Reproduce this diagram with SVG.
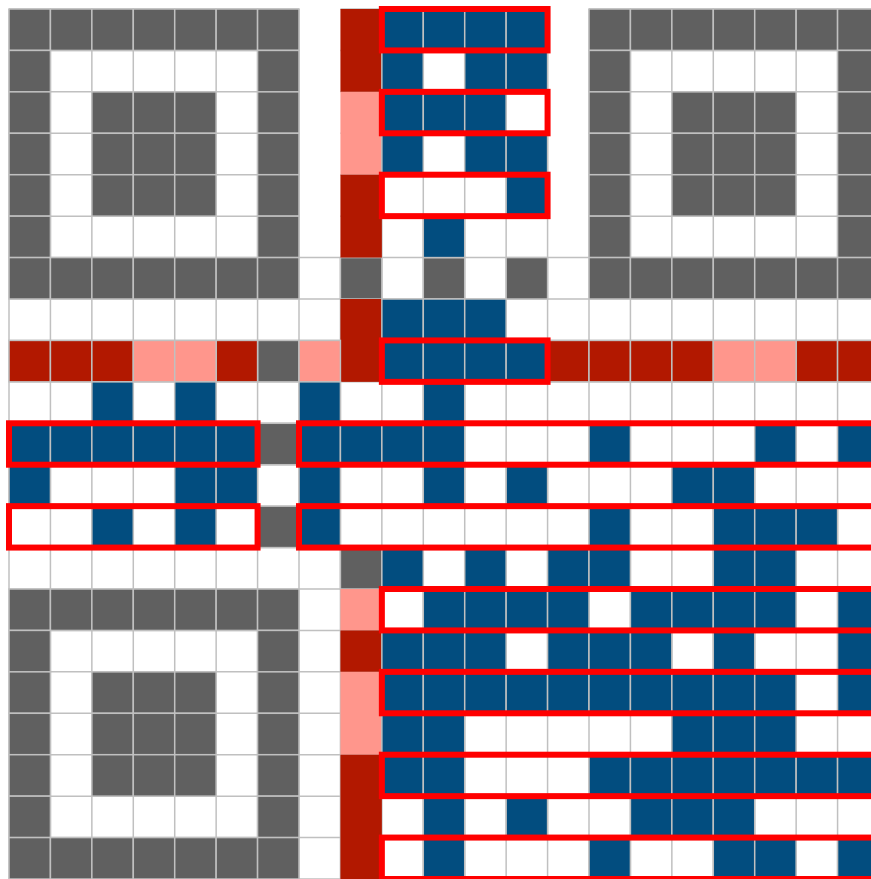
<svg xmlns="http://www.w3.org/2000/svg" xmlns:xlink="http://www.w3.org/1999/xlink" width="871" height="879" viewBox="0 0 871 879">
<style>
.grid{fill:none;stroke:#c0c0c0;stroke-width:0.036}
.g{fill:#606060;stroke:#c0c0c0;stroke-width:0.036}
.b{fill:#024d7f;stroke:#c0c0c0;stroke-width:0.036}
.r{fill:#b21800;stroke:#c0c0c0;stroke-width:0.036}
.p{fill:#ff968c;stroke:#c0c0c0;stroke-width:0.036}
.rn{fill:#b21800;stroke:none}
.pn{fill:#ff968c;stroke:none}
.box{fill:none;stroke:#ff0000;stroke-width:0.145}
</style>
<defs>
<rect id="c" width="1" height="1"/>
<g id="finder">
<use href="#c" x="0" y="0"/><use href="#c" x="1" y="0"/><use href="#c" x="2" y="0"/><use href="#c" x="3" y="0"/><use href="#c" x="4" y="0"/><use href="#c" x="5" y="0"/><use href="#c" x="6" y="0"/>
<use href="#c" x="0" y="1"/><use href="#c" x="6" y="1"/>
<use href="#c" x="0" y="2"/><use href="#c" x="2" y="2"/><use href="#c" x="3" y="2"/><use href="#c" x="4" y="2"/><use href="#c" x="6" y="2"/>
<use href="#c" x="0" y="3"/><use href="#c" x="2" y="3"/><use href="#c" x="3" y="3"/><use href="#c" x="4" y="3"/><use href="#c" x="6" y="3"/>
<use href="#c" x="0" y="4"/><use href="#c" x="2" y="4"/><use href="#c" x="3" y="4"/><use href="#c" x="4" y="4"/><use href="#c" x="6" y="4"/>
<use href="#c" x="0" y="5"/><use href="#c" x="6" y="5"/>
<use href="#c" x="0" y="6"/><use href="#c" x="1" y="6"/><use href="#c" x="2" y="6"/><use href="#c" x="3" y="6"/><use href="#c" x="4" y="6"/><use href="#c" x="5" y="6"/><use href="#c" x="6" y="6"/>
</g>
</defs>
<rect width="871" height="879" fill="#ffffff"/>
<g transform="translate(9 9) scale(41.428571)">
<path id="gridlines" class="grid" d="M0 0V21M1 0V21M2 0V21M3 0V21M4 0V21M5 0V21M6 0V21M7 0V21M8 6V21M9 0V21M10 0V21M11 0V21M12 0V21M13 0V21M14 0V21M15 0V21M16 0V21M17 0V21M18 0V21M19 0V21M20 0V21M21 0V21
M0 0H7M8 0H13M14 0H21M0 1H7M8 1H13M14 1H21M0 2H7M8 2H13M14 2H21M0 3H7M8 3H13M14 3H21M0 4H7M8 4H13M14 4H21M0 5H7M8 5H13M14 5H21
M0 6H21M0 7H21M0 8H21M0 9H21M0 10H21M0 11H21M0 12H21M0 13H21M0 14H21M0 15H21M0 16H21M0 17H21M0 18H21M0 19H21M0 20H21M0 21H21"/>
<g id="finders" class="g">
<use href="#finder" x="0" y="0"/>
<use href="#finder" x="14" y="0"/>
<use href="#finder" x="0" y="14"/>
</g>
<g id="timing" class="g">
<use href="#c" x="8" y="6"/><use href="#c" x="10" y="6"/><use href="#c" x="12" y="6"/>
<use href="#c" x="6" y="8"/><use href="#c" x="6" y="10"/><use href="#c" x="6" y="12"/>
<use href="#c" x="8" y="13"/>
</g>
<g id="format">
<rect class="rn" x="8" y="0" width="1" height="2"/>
<rect class="pn" x="8" y="2" width="1" height="2"/>
<rect class="rn" x="8" y="4" width="1" height="2"/>
<rect class="rn" x="8" y="7" width="1" height="2"/>
<rect class="pn" x="8" y="14" width="1" height="1"/>
<rect class="rn" x="8" y="15" width="1" height="1"/>
<rect class="pn" x="8" y="16" width="1" height="2"/>
<rect class="rn" x="8" y="18" width="1" height="3"/>
<g class="r">
<use href="#c" x="0" y="8"/><use href="#c" x="1" y="8"/><use href="#c" x="2" y="8"/><use href="#c" x="5" y="8"/>
<use href="#c" x="13" y="8"/><use href="#c" x="14" y="8"/><use href="#c" x="15" y="8"/><use href="#c" x="16" y="8"/><use href="#c" x="19" y="8"/><use href="#c" x="20" y="8"/>
</g>
<g class="p">
<use href="#c" x="3" y="8"/><use href="#c" x="4" y="8"/><use href="#c" x="7" y="8"/><use href="#c" x="17" y="8"/><use href="#c" x="18" y="8"/>
</g>
</g>
<g id="data" class="b">
<use href="#c" x="9" y="0"/><use href="#c" x="10" y="0"/><use href="#c" x="11" y="0"/><use href="#c" x="12" y="0"/>
<use href="#c" x="9" y="1"/><use href="#c" x="11" y="1"/><use href="#c" x="12" y="1"/>
<use href="#c" x="9" y="2"/><use href="#c" x="10" y="2"/><use href="#c" x="11" y="2"/>
<use href="#c" x="9" y="3"/><use href="#c" x="11" y="3"/><use href="#c" x="12" y="3"/>
<use href="#c" x="12" y="4"/>
<use href="#c" x="10" y="5"/>
<use href="#c" x="9" y="7"/><use href="#c" x="10" y="7"/><use href="#c" x="11" y="7"/>
<use href="#c" x="9" y="8"/><use href="#c" x="10" y="8"/><use href="#c" x="11" y="8"/><use href="#c" x="12" y="8"/>
<use href="#c" x="2" y="9"/><use href="#c" x="4" y="9"/><use href="#c" x="7" y="9"/><use href="#c" x="10" y="9"/>
<use href="#c" x="0" y="10"/><use href="#c" x="1" y="10"/><use href="#c" x="2" y="10"/><use href="#c" x="3" y="10"/><use href="#c" x="4" y="10"/><use href="#c" x="5" y="10"/><use href="#c" x="7" y="10"/><use href="#c" x="8" y="10"/><use href="#c" x="9" y="10"/><use href="#c" x="10" y="10"/><use href="#c" x="14" y="10"/><use href="#c" x="18" y="10"/><use href="#c" x="20" y="10"/>
<use href="#c" x="0" y="11"/><use href="#c" x="4" y="11"/><use href="#c" x="5" y="11"/><use href="#c" x="7" y="11"/><use href="#c" x="10" y="11"/><use href="#c" x="12" y="11"/><use href="#c" x="16" y="11"/><use href="#c" x="17" y="11"/>
<use href="#c" x="2" y="12"/><use href="#c" x="4" y="12"/><use href="#c" x="7" y="12"/><use href="#c" x="14" y="12"/><use href="#c" x="17" y="12"/><use href="#c" x="18" y="12"/><use href="#c" x="19" y="12"/>
<use href="#c" x="9" y="13"/><use href="#c" x="11" y="13"/><use href="#c" x="13" y="13"/><use href="#c" x="14" y="13"/><use href="#c" x="17" y="13"/><use href="#c" x="18" y="13"/>
<use href="#c" x="10" y="14"/><use href="#c" x="11" y="14"/><use href="#c" x="12" y="14"/><use href="#c" x="13" y="14"/><use href="#c" x="15" y="14"/><use href="#c" x="16" y="14"/><use href="#c" x="17" y="14"/><use href="#c" x="18" y="14"/><use href="#c" x="20" y="14"/>
<use href="#c" x="9" y="15"/><use href="#c" x="10" y="15"/><use href="#c" x="11" y="15"/><use href="#c" x="13" y="15"/><use href="#c" x="14" y="15"/><use href="#c" x="15" y="15"/><use href="#c" x="17" y="15"/><use href="#c" x="20" y="15"/>
<use href="#c" x="9" y="16"/><use href="#c" x="10" y="16"/><use href="#c" x="11" y="16"/><use href="#c" x="12" y="16"/><use href="#c" x="13" y="16"/><use href="#c" x="14" y="16"/><use href="#c" x="15" y="16"/><use href="#c" x="16" y="16"/><use href="#c" x="17" y="16"/><use href="#c" x="18" y="16"/><use href="#c" x="20" y="16"/>
<use href="#c" x="9" y="17"/><use href="#c" x="10" y="17"/><use href="#c" x="16" y="17"/><use href="#c" x="17" y="17"/><use href="#c" x="18" y="17"/>
<use href="#c" x="9" y="18"/><use href="#c" x="10" y="18"/><use href="#c" x="14" y="18"/><use href="#c" x="15" y="18"/><use href="#c" x="16" y="18"/><use href="#c" x="17" y="18"/><use href="#c" x="18" y="18"/><use href="#c" x="19" y="18"/><use href="#c" x="20" y="18"/>
<use href="#c" x="10" y="19"/><use href="#c" x="12" y="19"/><use href="#c" x="15" y="19"/><use href="#c" x="16" y="19"/><use href="#c" x="17" y="19"/>
<use href="#c" x="10" y="20"/><use href="#c" x="14" y="20"/><use href="#c" x="17" y="20"/><use href="#c" x="18" y="20"/><use href="#c" x="20" y="20"/>
</g>
<g id="codewords" class="box">
<rect x="9" y="0" width="4" height="1"/>
<rect x="9" y="2" width="4" height="1"/>
<rect x="9" y="4" width="4" height="1"/>
<rect x="9" y="8" width="4" height="1"/>
<rect x="0" y="10" width="6" height="1"/>
<rect x="7" y="10" width="14" height="1"/>
<rect x="0" y="12" width="6" height="1"/>
<rect x="7" y="12" width="14" height="1"/>
<rect x="9" y="14" width="12" height="1"/>
<rect x="9" y="16" width="12" height="1"/>
<rect x="9" y="18" width="12" height="1"/>
<rect x="9" y="20" width="12" height="1"/>
</g>
</g>
</svg>
